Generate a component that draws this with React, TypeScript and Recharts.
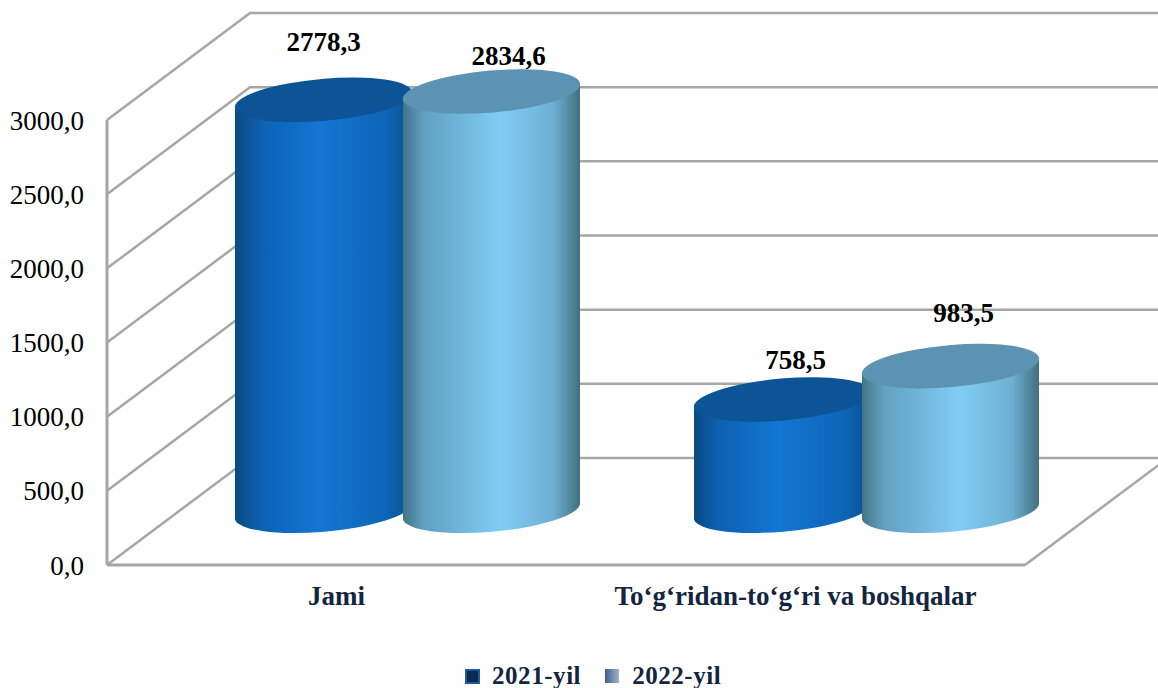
import { Bar, BarChart, CartesianGrid, LabelList, Legend, XAxis, YAxis } from 'recharts'

const categories = ['Jami', 'To‘g‘ridan-to‘g‘ri va boshqalar']
const values2021 = [2778.3, 758.5]
const values2022 = [2834.6, 983.5]
const yTicks = [0, 500, 1000, 1500, 2000, 2500, 3000]

const chartData = categories.map((name, i) => ({
  name,
  y2021: values2021[i],
  y2022: values2022[i],
}))

const FONT = '"Liberation Serif", "Times New Roman", serif'
const GRID = '#a6a6a6'
const NAVY = '#14263f'

// depth of the fake 3d box, bars stand halfway into it
const DEPTH_X = 143
const DEPTH_Y = 107
const SHIFT_X = 71
const SHIFT_Y = 53

// label nudges, the original has them hand placed
const nudge2021 = [{ dx: 0, dy: -58 }, { dx: 13, dy: -39 }]
const nudge2022 = [{ dx: 17, dy: -36 }, { dx: 13, dy: -53 }]

const fmt = (v: number) => v.toFixed(1).replace('.', ',')

function GridLine(props: any) {
  const { x1, x2, y1, index } = props
  const backY = y1 - DEPTH_Y
  const floor = Math.abs(y1 - 565) < 1
  return (
    <g key={`grid-${index}`} stroke={GRID} strokeWidth={2.5} fill="none">
      <polyline points={`${x1},${y1} ${x1 + DEPTH_X},${backY} ${x2 + DEPTH_X},${backY}`} />
      {floor && <line x1={x2} y1={y1} x2={x2 + DEPTH_X} y2={backY} />}
    </g>
  )
}

const makeCylinder = (topColor: string) => (props: any) => {
  const { x, y, width, height, fill } = props
  const left = x + SHIFT_X
  const right = left + width
  const top = y - SHIFT_Y
  const base = y + height - SHIFT_Y
  const cx = left + width / 2
  const a = width / 2 + 0.5
  const b = 21
  const off = 7.5
  const rot = -5
  return (
    <g>
      <path
        d={`M${left},${top + off} L${left},${base + off} A${a},${b} ${rot} 0 0 ${right},${base - off} L${right},${top - off} A${a},${b} ${rot} 0 1 ${left},${top + off} Z`}
        fill={fill}
      />
      <ellipse cx={cx} cy={top} rx={a} ry={b} transform={`rotate(${rot} ${cx} ${top})`} fill={topColor} />
    </g>
  )
}

const makeLabel = (nudge: { dx: number; dy: number }[]) => (props: any) => {
  const { x, y, width, value, index } = props
  return (
    <text
      x={x + SHIFT_X + width / 2 + nudge[index].dx}
      y={y - SHIFT_Y + nudge[index].dy}
      textAnchor="middle"
      dominantBaseline="central"
      fontFamily={FONT}
      fontWeight="bold"
      fontSize={27}
      fill="#000"
    >
      {fmt(value)}
    </text>
  )
}

function LegendRow() {
  return (
    <div style={{ display: 'flex', alignItems: 'center', height: 24, paddingLeft: 465, fontFamily: FONT, fontWeight: 'bold', fontSize: 25, letterSpacing: 0.55, color: NAVY, lineHeight: '24px' }}>
      <span style={{ width: 15, height: 15, boxSizing: 'border-box', background: '#0a2a50', border: '2px solid #1b5c9c' }} />
      <span style={{ marginLeft: 12 }}>2021-yil</span>
      <span style={{ width: 14, height: 14, marginLeft: 24, background: 'linear-gradient(90deg, #3f5f88, #9fb4cc)' }} />
      <span style={{ marginLeft: 13 }}>2022-yil</span>
    </div>
  )
}

export default function App() {
  return (
    <div style={{ position: 'absolute', left: 0, top: 0 }}>
      <BarChart
        width={1158}
        height={688}
        data={chartData}
        margin={{ top: 120, right: 133, bottom: 0, left: 0 }}
        barSize={177}
        barGap={-9}
      >
        <defs>
          <linearGradient id="blue21" x1="0" y1="0" x2="1" y2="0">
            <stop offset="0" stopColor="#0a4a80" />
            <stop offset="0.15" stopColor="#0d62b4" />
            <stop offset="0.48" stopColor="#1276d3" />
            <stop offset="0.85" stopColor="#0e65b8" />
            <stop offset="1" stopColor="#0a4f8e" />
          </linearGradient>
          <linearGradient id="blue22" x1="0" y1="0" x2="1" y2="0">
            <stop offset="0" stopColor="#437488" />
            <stop offset="0.12" stopColor="#62a0c0" />
            <stop offset="0.55" stopColor="#80cdf5" />
            <stop offset="0.85" stopColor="#6eafd2" />
            <stop offset="1" stopColor="#41707f" />
          </linearGradient>
        </defs>
        <CartesianGrid vertical={false} horizontal={GridLine as any} />
        <XAxis
          dataKey="name"
          height={99}
          interval={0}
          axisLine={{ stroke: GRID, strokeWidth: 3 }}
          tickLine={false}
          tickSize={0}
          tickMargin={21}
          tick={{ fontFamily: FONT, fontWeight: 'bold', fontSize: 27, fill: NAVY }}
        />
        <YAxis
          width={107}
          domain={[0, 3000]}
          ticks={yTicks}
          interval={0}
          tickFormatter={fmt}
          axisLine={{ stroke: GRID, strokeWidth: 3 }}
          tickLine={false}
          tickSize={0}
          tickMargin={23}
          tick={{ fontFamily: FONT, fontSize: 27, fill: '#000' }}
        />
        <Legend content={LegendRow as any} height={24} wrapperStyle={{ left: 0, width: 1158 }} />
        <Bar dataKey="y2021" name="2021-yil" fill="url(#blue21)" shape={makeCylinder('#0c5496')} isAnimationActive={false}>
          <LabelList dataKey="y2021" content={makeLabel(nudge2021) as any} />
        </Bar>
        <Bar dataKey="y2022" name="2022-yil" fill="url(#blue22)" shape={makeCylinder('#5c93b3')} isAnimationActive={false}>
          <LabelList dataKey="y2022" content={makeLabel(nudge2022) as any} />
        </Bar>
      </BarChart>
    </div>
  )
}
